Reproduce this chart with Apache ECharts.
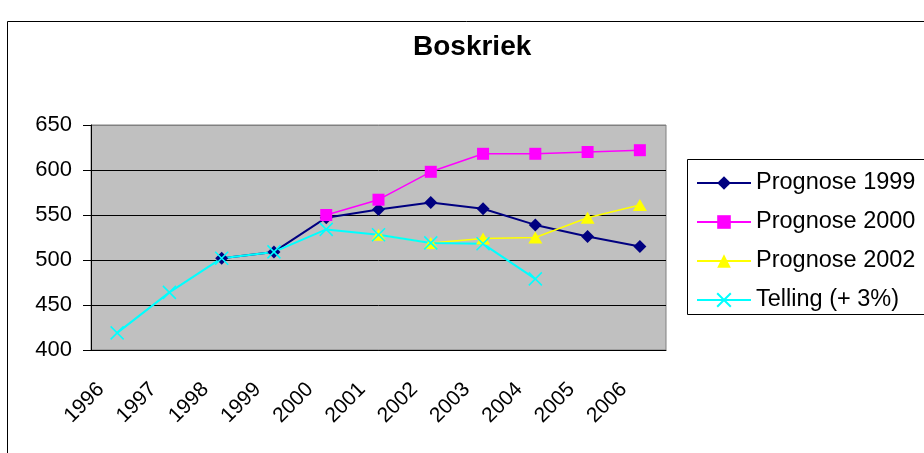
<!DOCTYPE html>
<html>
<head>
<meta charset="utf-8">
<script src="https://cdn.jsdelivr.net/npm/echarts@6/dist/echarts.min.js"></script>
<style>
  html, body { margin: 0; padding: 0; background: #fff; }
  #main { width: 924px; height: 453px; }
</style>
</head>
<body>
<div id="main"></div>
<script>
  // jaren op de x-as
  var years = ['1996', '1997', '1998', '1999', '2000', '2001', '2002', '2003', '2004', '2005', '2006'];
  // reeksen
  var prognose1999 = [null, null, 502, 509, 547, 556, 564, 557, 539, 526, 515];
  var prognose2000 = [null, null, null, null, 550, 567, 598, 618, 618, 620, 622];
  var prognose2002 = [null, null, null, null, null, 528, 519, 524, 525, 547, 561];
  var telling = [419, 464, 502, 509, 534, 528, 519, 518, 479, null, null];

  var font = 'Liberation Sans, Arial, sans-serif';
  var myChart = echarts.init(document.getElementById('main'));

  myChart.setOption({
    animation: false,
    backgroundColor: '#fff',
    title: {
      text: 'Boskriek',
      left: 413,
      top: 33,
      padding: 0,
      textStyle: { fontFamily: font, fontSize: 28, fontWeight: 'bold', color: '#000' }
    },
    graphic: [
      // rand om de hele grafiek
      { type: 'rect', shape: { x: 7.5, y: 21.5, width: 1000, height: 1000 },
        style: { fill: 'none', stroke: '#000', lineWidth: 1 }, silent: true },
      // rand om de legenda
      { type: 'rect', shape: { x: 687.5, y: 159.5, width: 400, height: 155 },
        style: { fill: 'none', stroke: '#000', lineWidth: 1 }, silent: true }
    ],
    legend: {
      orient: 'vertical',
      left: 696,
      top: 171,
      padding: 0,
      itemWidth: 54,
      itemHeight: 17,
      itemGap: 15,
      textStyle: { fontFamily: font, fontSize: 23.5, color: '#000' },
      data: ['Prognose 1999', 'Prognose 2000', 'Prognose 2002', 'Telling (+ 3%)']
    },
    grid: {
      left: 91,
      top: 125,
      right: 258,
      bottom: 103,
      show: true,
      backgroundColor: '#C0C0C0',
      borderColor: '#808080',
      borderWidth: 1,
      outerBoundsMode: 'none'
    },
    xAxis: {
      type: 'category',
      data: years,
      boundaryGap: true,
      axisLine: { lineStyle: { color: '#000', width: 1 } },
      axisTick: { interval: 0, length: 9, lineStyle: { color: '#000' } },
      axisLabel: {
        interval: 0,
        rotate: 45,
        margin: 20,
        padding: [0, 23, 0, 0],
        fontFamily: font,
        fontSize: 21,
        color: '#000'
      }
    },
    yAxis: {
      type: 'value',
      min: 400,
      max: 650,
      interval: 50,
      axisLine: { show: true, lineStyle: { color: '#000', width: 1 } },
      axisTick: { show: true, length: 8, lineStyle: { color: '#000' } },
      axisLabel: { margin: 19, fontFamily: font, fontSize: 22, color: '#000' },
      splitLine: { lineStyle: { color: ['#000', '#000', '#000', '#000', '#000', '#808080'], width: 1 } }
    },
    series: [
      {
        name: 'Prognose 1999',
        type: 'line',
        data: prognose1999,
        symbol: 'diamond',
        symbolSize: [13, 13],
        lineStyle: { color: '#000080', width: 2 },
        itemStyle: { color: '#000080' }
      },
      {
        name: 'Prognose 2000',
        type: 'line',
        data: prognose2000,
        symbol: 'rect',
        symbolSize: 12,
        lineStyle: { color: '#FF00FF', width: 1.5 },
        itemStyle: { color: '#FF00FF' }
      },
      {
        name: 'Prognose 2002',
        type: 'line',
        data: prognose2002,
        symbol: 'triangle',
        symbolSize: [14, 12],
        lineStyle: { color: '#FFFF00', width: 1.5 },
        itemStyle: { color: '#FFFF00' }
      },
      {
        name: 'Telling (+ 3%)',
        type: 'line',
        data: telling,
        symbol: 'path://M0,0L10,10M10,0L0,10',
        symbolSize: 13,
        lineStyle: { color: '#00FFFF', width: 2 },
        itemStyle: { color: '#00FFFF', borderColor: '#00FFFF', borderWidth: 1.5 }
      }
    ]
  });
</script>
</body>
</html>
